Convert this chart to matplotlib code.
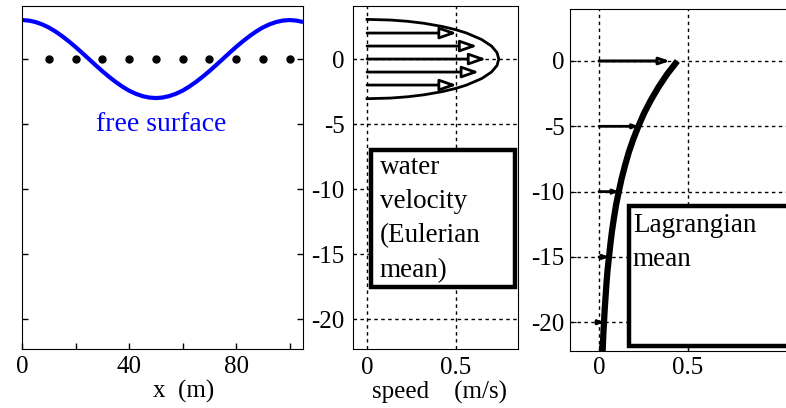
import matplotlib
matplotlib.use("Agg")
import matplotlib.pyplot as plt
from matplotlib.patches import Rectangle

plt.rcParams["font.family"] = ["Liberation Serif", "DejaVu Serif"]
plt.rcParams["axes.unicode_minus"] = False

# --- free surface elevation (m) along x (m) ---
surface_x = [0, 2.5, 5, 7.5, 10, 12.5, 15, 17.5, 20, 22.5, 25, 27.5, 30, 32.5, 35,
             37.5, 40, 42.5, 45, 47.5, 50, 52.5, 55, 57.5, 60, 62.5, 65, 67.5, 70,
             72.5, 75, 77.5, 80, 82.5, 85, 87.5, 90, 92.5, 95, 97.5, 100, 102.5, 105]
surface_eta = [3.00, 2.96, 2.85, 2.67, 2.43, 2.12, 1.76, 1.36, 0.93, 0.47, 0.00,
               -0.47, -0.93, -1.36, -1.76, -2.12, -2.43, -2.67, -2.85, -2.96, -3.00,
               -2.96, -2.85, -2.67, -2.43, -2.12, -1.76, -1.36, -0.93, -0.47, 0.00,
               0.47, 0.93, 1.36, 1.76, 2.12, 2.43, 2.67, 2.85, 2.96, 3.00, 2.96, 2.85]
particle_x = [10, 20, 30, 40, 50, 60, 70, 80, 90, 100]
particle_z = [0, 0, 0, 0, 0, 0, 0, 0, 0, 0]

# --- Eulerian velocity envelope (speed m/s vs depth m) ---
euler_speed = [0.0, 0.133, 0.229, 0.320, 0.424, 0.500, 0.559, 0.644, 0.699, 0.730,
               0.740, 0.730, 0.699, 0.644, 0.559, 0.500, 0.424, 0.320, 0.229, 0.133, 0.0]
euler_z = [3.05, 3.0, 2.9, 2.75, 2.5, 2.25, 2.0, 1.5, 1.0, 0.5,
           0.0, -0.5, -1.0, -1.5, -2.0, -2.25, -2.5, -2.75, -2.9, -3.0, -3.05]
euler_arrow_z = [2, 1, 0, -1, -2]
euler_arrow_u = [0.505, 0.62, 0.67, 0.63, 0.505]

# --- Lagrangian mean drift profile ---
lagr_z = [0, -1, -2, -3, -4, -5, -6, -7, -8, -9, -10, -11, -12, -13, -14, -15,
          -16, -17, -18, -19, -20, -21, -22, -22.5]
lagr_u = [0.440, 0.383, 0.334, 0.291, 0.253, 0.221, 0.192, 0.167, 0.146, 0.127,
          0.111, 0.096, 0.084, 0.073, 0.064, 0.056, 0.048, 0.042, 0.037, 0.032,
          0.028, 0.024, 0.021, 0.020]
lagr_arrow_z = [0, -5, -10, -15, -20]
lagr_arrow_u = [0.40, 0.221, 0.111, 0.056, 0.028]

depth_ticks = [0, -5, -10, -15, -20]
depth_labels = ["0", "-5", "-10", "-15", "-20"]
x_ticks = [0, 20, 40, 60, 80, 100]
x_labels = ["0", "", "40", "", "80", ""]
speed_ticks = [0, 0.5]
speed_labels = ["0", "0.5"]

W, H = 786, 408
fig = plt.figure(figsize=(W / 100, H / 100), dpi=100)


def px_axes(left, top, right, bottom):
    return fig.add_axes([left / W, 1 - bottom / H, (right - left) / W, (bottom - top) / H])


tick_fs = 18
grid_kw = dict(color="black", linestyle=(0, (2.5, 2.5)), linewidth=1.0)

# Panel 1: free surface
ax1 = px_axes(22, 6, 303, 349)
ax1.plot(surface_x, surface_eta, color="#0000ff", lw=3.0, solid_capstyle="butt")
ax1.plot(particle_x, particle_z, "o", color="black", ms=5)
ax1.set_xlim(0, 105)
ax1.set_ylim(-22.3, 4.08)
ax1.set_xticks(x_ticks)
ax1.set_xticklabels(x_labels, fontsize=tick_fs)
ax1.set_yticks(depth_ticks)
ax1.set_yticklabels([])
ax1.tick_params(direction="in", length=4, width=1, right=True, pad=5)
ax1.text(52, -5, "free surface", color="#0000ff", fontsize=20, ha="center", va="center")
fig.text(184 / W, 1 - 391 / H, "x  (m)", fontsize=tick_fs, ha="center", va="center")

# Panel 2: Eulerian velocity
ax2 = px_axes(353, 6, 518, 349)
ax2.set_xlim(-0.079, 0.848)
ax2.set_ylim(-22.3, 4.08)
ax2.set_xticks(speed_ticks)
ax2.set_xticklabels(speed_labels, fontsize=tick_fs)
ax2.set_yticks(depth_ticks)
ax2.set_yticklabels(depth_labels, fontsize=tick_fs)
ax2.tick_params(direction="in", length=0, pad=6)
ax2.grid(True, **grid_kw)
ax2.plot(euler_speed, euler_z, color="black", lw=2.0, zorder=3)
for z, u in zip(euler_arrow_z, euler_arrow_u):
    ax2.annotate("", xy=(u, z), xytext=(0, z),
                 arrowprops=dict(arrowstyle="-|>,head_length=1.0,head_width=0.35",
                                 fc="white", ec="black", lw=2.0,
                                 shrinkA=0, shrinkB=0), zorder=4)
ax2.add_patch(Rectangle((0.022, -17.5), 0.81, 10.5, transform=ax2.transData,
                        fc="white", ec="black", lw=3.2, zorder=5))
ax2.text(0.07, -7.4, "water\nvelocity\n(Eulerian\nmean)", fontsize=19.5,
         ha="left", va="top", linespacing=1.48, zorder=6)
fig.text(439 / W, 1 - 392 / H, "speed    (m/s)", fontsize=tick_fs, ha="center", va="center")

# Panel 3: Lagrangian mean
ax3 = px_axes(570, 9, 792, 351)
ax3.set_xlim(-0.163, 1.084)
ax3.set_ylim(-22.2, 3.98)
ax3.set_xticks(speed_ticks)
ax3.set_xticklabels(speed_labels, fontsize=tick_fs)
ax3.set_yticks(depth_ticks)
ax3.set_yticklabels(depth_labels, fontsize=tick_fs)
ax3.tick_params(direction="in", length=4, pad=4)
ax3.grid(True, **grid_kw)
ax3.spines["right"].set_visible(False)
for i, (z, u) in enumerate(zip(lagr_arrow_z, lagr_arrow_u)):
    if i == 0:
        style = "-|>,head_length=0.6,head_width=0.2"
        fc, lw = "white", 2.2
    else:
        style = "-|>,head_length=0.3,head_width=0.12"
        fc, lw = "black", 2.0
    ax3.annotate("", xy=(u, z), xytext=(0, z),
                 arrowprops=dict(arrowstyle=style, fc=fc, ec="black", lw=lw,
                                 shrinkA=0, shrinkB=0), zorder=3)
ax3.plot(lagr_u, lagr_z, color="black", lw=4.5, zorder=4, solid_capstyle="butt")
ax3.add_patch(Rectangle((0.169, -21.8), 2.0, 10.7, transform=ax3.transData,
                        fc="white", ec="black", lw=3.2, zorder=5))
ax3.text(0.19, -11.6, "Lagrangian\nmean", fontsize=19.5, ha="left", va="top",
         linespacing=1.48, zorder=6)

fig.savefig("out.png", dpi=100)
